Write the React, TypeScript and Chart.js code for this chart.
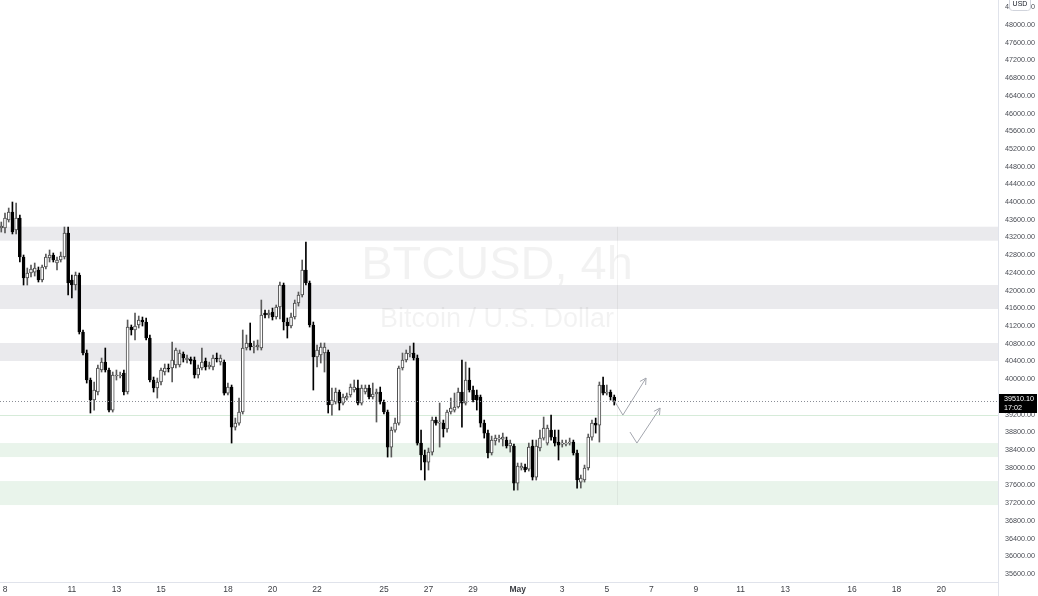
import { useEffect, useRef } from 'react';
import { Chart, registerables } from 'chart.js';

Chart.register(...registerables);

const FONT = "'Liberation Sans', Arial, sans-serif";

// 4h bars, time measured in days from Apr 8 00:00
const firstBarDay = -1 / 6;
const barStepDays = 1 / 6;

const opens = [
  43415, 43415, 43595, 43776, 43370, 43640, 42760, 42285, 42398, 42420,
  42466, 42240, 42534, 42737, 42805, 42624, 42692, 42760, 43302, 42240,
  42127, 42353, 41066, 40591, 39981, 39529, 39710, 40207, 40388, 40207,
  39303, 40072, 40072, 40139, 39710, 41178, 41111, 41224, 41337, 41291,
  40930, 39981, 39800, 39936, 40162, 40252, 40252, 40320, 40320, 40568,
  40433, 40456, 40433, 40094, 40252, 40410, 40275, 40275, 40478, 40388,
  40388, 39687, 39823, 38919, 39009, 39258, 40704, 40817, 40727, 40727,
  40704, 41494, 41449, 41517, 41404, 41630, 42127, 41291, 41201, 41404,
  41720, 41901, 42466, 42172, 41224, 40501, 40546, 40591, 40614, 39416,
  39484, 39710, 39461, 39574, 39642, 39755, 39800, 39461, 39710, 39800,
  39597, 39665, 39710, 39484, 39258, 38467, 38851, 39009, 40252, 40433,
  40568, 40591, 40478, 38557, 38287, 38128, 38354, 39077, 39009, 39009,
  38874, 39258, 39303, 39371, 39710, 39461, 39981, 39755, 39642, 39597,
  39009, 38783, 38332, 38603, 38648, 38648, 38625, 38490, 38490, 37654,
  37993, 38015, 37970, 38490, 37789, 38445, 38670, 38557, 38851, 38693,
  38580, 38535, 38535, 38557, 38580, 38332, 37676, 37722, 37993, 38693,
  39009, 38964, 39868, 39687, 39710, 39597,
];

const highs = [
  43550, 43753, 43866, 44002, 43979, 43708, 42805, 42511, 42579, 42624,
  42534, 42579, 42828, 42918, 42850, 42760, 42872, 43437, 43437, 42353,
  42420, 42398, 41111, 40659, 40026, 39936, 40320, 40478, 40704, 40252,
  40162, 40207, 40162, 40207, 41337, 41224, 41494, 41427, 41404, 41382,
  40998, 40049, 40026, 40252, 40343, 40343, 40839, 40704, 40659, 40614,
  40546, 40501, 40501, 40320, 40704, 40478, 40388, 40546, 40591, 40546,
  40433, 39913, 39868, 39122, 39574, 41111, 40998, 41269, 40862, 40885,
  41788, 41562, 41562, 41607, 41675, 42195, 42172, 41382, 41494, 41788,
  41969, 42692, 43098, 42217, 41291, 40772, 40817, 40817, 40659, 39800,
  39800, 39755, 39665, 39687, 39891, 39981, 39981, 39868, 39868, 39868,
  39913, 39778, 39823, 39529, 39303, 38919, 39122, 40297, 40591, 40659,
  40750, 40817, 40546, 38851, 38400, 38445, 39145, 39145, 39461, 39077,
  39303, 39574, 39687, 39800, 40433, 40388, 40252, 39846, 39755, 39642,
  39077, 38851, 38715, 38738, 38738, 38783, 38693, 38625, 38535, 38106,
  38106, 38083, 38557, 38625, 38625, 38851, 39145, 38964, 39190, 38851,
  38851, 38625, 38625, 38670, 38625, 38400, 37835, 38060, 38761, 39077,
  39122, 39936, 40049, 39868, 39755, 39642,
];

const lows = [
  43324, 43302, 43550, 43280, 43280, 42647, 42127, 42127, 42308, 42330,
  42195, 42195, 42488, 42647, 42647, 42466, 42647, 42715, 41901, 41833,
  42014, 41021, 40546, 39913, 39236, 39303, 39642, 40162, 40162, 39258,
  39258, 39981, 40026, 39642, 39665, 40998, 40885, 41156, 41201, 40885,
  39936, 39710, 39574, 39868, 40094, 40162, 39936, 40252, 40275, 40388,
  40365, 40343, 40026, 40026, 40207, 40207, 40230, 40207, 40388, 40320,
  39642, 39642, 38557, 38851, 38964, 39213, 40659, 40659, 40591, 40659,
  40659, 41382, 41382, 41337, 41359, 41359, 41111, 40930, 41156, 41359,
  41652, 41856, 42127, 41178, 39755, 40275, 40365, 40162, 39236, 39190,
  39439, 39303, 39416, 39529, 39597, 39710, 39416, 39416, 39665, 39552,
  39552, 39032, 39439, 39213, 38241, 38241, 38806, 38964, 40207, 40388,
  40501, 40433, 38512, 37948, 37722, 37948, 38287, 38964, 38467, 38693,
  38806, 39213, 39258, 39348, 38919, 39416, 39710, 39484, 39303, 38919,
  38670, 38219, 38287, 38512, 38580, 38490, 38445, 38354, 37496, 37496,
  37948, 37903, 37925, 37722, 37722, 38377, 38625, 38512, 38625, 38490,
  38174, 38467, 38490, 38512, 38287, 37541, 37541, 37676, 37948, 38625,
  38783, 38580, 39642, 39642, 39529, 39416,
];

const closes = [
  43460, 43640, 43776, 43324, 43640, 42760, 42285, 42398, 42488, 42511,
  42240, 42534, 42760, 42805, 42692, 42692, 42782, 43302, 42172, 42127,
  42353, 41066, 40591, 39981, 39529, 39755, 40252, 40388, 40207, 39303,
  40094, 40094, 40094, 39710, 41178, 41111, 41201, 41337, 41291, 40930,
  39981, 39800, 39936, 40207, 40252, 40230, 40433, 40659, 40591, 40478,
  40478, 40410, 40094, 40252, 40388, 40275, 40320, 40478, 40456, 40478,
  39687, 39823, 38919, 39009, 39258, 40704, 40817, 40727, 40750, 40772,
  41449, 41449, 41494, 41404, 41630, 42127, 41291, 41201, 41404, 41720,
  41901, 42466, 42172, 41224, 40501, 40659, 40727, 40727, 39416, 39529,
  39710, 39461, 39597, 39620, 39823, 39823, 39461, 39800, 39800, 39597,
  39665, 39710, 39484, 39258, 38467, 38851, 39009, 40252, 40433, 40591,
  40591, 40478, 38557, 38287, 38128, 38354, 39077, 39009, 39032, 38874,
  39258, 39348, 39371, 39710, 39461, 39981, 39755, 39529, 39529, 39009,
  38783, 38332, 38625, 38670, 38670, 38693, 38490, 38557, 37654, 38038,
  38038, 37948, 38467, 37789, 38490, 38670, 38896, 38896, 38693, 38557,
  38512, 38557, 38557, 38580, 38332, 37722, 37767, 37993, 38693, 39009,
  38964, 39868, 39687, 39710, 39597, 39510.1,
];

const xTickDays = [0, 3, 5, 7, 10, 12, 14, 17, 19, 21, 23, 25, 27, 29, 31, 33, 35, 38, 40, 42];
const xTickLabels = ['8', '11', '13', '15', '18', '20', '22', '25', '27', '29', 'May', '3', '5', '7', '9', '11', '13', '16', '18', '20'];
const yTickValues = [
  35600, 36000, 36400, 36800, 37200, 37600, 38000, 38400, 38800, 39200, 39600,
  40000, 40400, 40800, 41200, 41600, 42000, 42400, 42800, 43200, 43600, 44000,
  44400, 44800, 45200, 45600, 46000, 46400, 46800, 47200, 47600, 48000, 48400,
];

const xMinDay = -0.224;
const xMaxDay = 44.55;
const yMinPrice = 35419;
const yMaxPrice = 48565;

const greyZones = [
  [43128, 43444],
  [41585, 42127],
  [40410, 40817],
];
const greenZones = [
  [38241, 38557],
  [37157, 37699],
];
const supportLevel = 39190;
const zoneMarkerDay = 27.46;
const lastPrice = 39510.1;
const countdown = '17:02';
const arrowPaths = [
  [[27.32, 39529], [27.72, 39190], [28.76, 40026]],
  [[28.04, 38806], [28.35, 38557], [29.39, 39348]],
];
const symbolTitle = 'BTCUSD, 4h';
const symbolName = 'Bitcoin / U.S. Dollar';
const currency = 'USD';

const overlayPlugin = {
  id: 'overlay',
  beforeDatasetsDraw(chart: any) {
    const { ctx, chartArea: a, scales } = chart;
    const x = scales.x;
    const y = scales.y;
    ctx.save();
    // zones
    ctx.fillStyle = '#eaeaed';
    greyZones.forEach(([lo, hi]) => {
      const t = y.getPixelForValue(hi);
      const b = y.getPixelForValue(lo);
      ctx.fillRect(a.left, t, a.right - a.left, b - t);
    });
    ctx.fillStyle = '#e9f4eb';
    greenZones.forEach(([lo, hi]) => {
      const t = y.getPixelForValue(hi);
      const b = y.getPixelForValue(lo);
      ctx.fillRect(a.left, t, a.right - a.left, b - t);
    });
    // support line
    ctx.strokeStyle = '#d6ebd9';
    ctx.lineWidth = 1;
    const sy = Math.round(y.getPixelForValue(supportLevel)) + 0.5;
    ctx.beginPath();
    ctx.moveTo(a.left, sy);
    ctx.lineTo(a.right, sy);
    ctx.stroke();
    // marker
    const mx = Math.round(x.getPixelForValue(zoneMarkerDay)) + 0.5;
    ctx.strokeStyle = 'rgba(0,0,0,0.05)';
    ctx.beginPath();
    ctx.moveTo(mx, y.getPixelForValue(greyZones[0][1]));
    ctx.lineTo(mx, y.getPixelForValue(greenZones[1][0]));
    ctx.stroke();
    // watermark
    const cx = (a.left + a.right) / 2 - 2;
    ctx.fillStyle = 'rgba(0,0,0,0.05)';
    ctx.textAlign = 'center';
    ctx.textBaseline = 'middle';
    ctx.font = `47px ${FONT}`;
    ctx.fillText(symbolTitle, cx, 266);
    ctx.font = `27px ${FONT}`;
    ctx.fillText(symbolName, cx, 320);
    ctx.restore();
  },
  afterDatasetsDraw(chart: any) {
    const { ctx, chartArea: a, scales } = chart;
    const x = scales.x;
    const y = scales.y;
    ctx.save();
    // last price dotted line
    const py = Math.round(y.getPixelForValue(lastPrice)) + 0.5;
    ctx.strokeStyle = '#8a8d96';
    ctx.lineWidth = 1;
    ctx.setLineDash([1, 2]);
    ctx.beginPath();
    ctx.moveTo(a.left, py);
    ctx.lineTo(a.right, py);
    ctx.stroke();
    ctx.setLineDash([]);
    // arrows
    ctx.strokeStyle = '#a3a6ae';
    ctx.lineWidth = 1;
    arrowPaths.forEach((path) => {
      const pts = path.map(([d, p]) => [x.getPixelForValue(d), y.getPixelForValue(p)]);
      ctx.beginPath();
      pts.forEach(([px, pyy], i) => (i ? ctx.lineTo(px, pyy) : ctx.moveTo(px, pyy)));
      ctx.stroke();
      const [ex, ey] = pts[pts.length - 1];
      const [sx, syy] = pts[pts.length - 2];
      const ang = Math.atan2(ey - syy, ex - sx);
      const len = 7;
      ctx.beginPath();
      ctx.moveTo(ex - len * Math.cos(ang - 0.5), ey - len * Math.sin(ang - 0.5));
      ctx.lineTo(ex, ey);
      ctx.lineTo(ex - len * Math.cos(ang + 0.5), ey - len * Math.sin(ang + 0.5));
      ctx.stroke();
    });
    ctx.restore();
  },
  afterDraw(chart: any) {
    const { ctx, chartArea: a, scales, width, height } = chart;
    const y = scales.y;
    ctx.save();
    ctx.strokeStyle = '#e0e3eb';
    ctx.lineWidth = 1;
    ctx.beginPath();
    ctx.moveTo(a.right + 0.5, 0);
    ctx.lineTo(a.right + 0.5, height);
    ctx.moveTo(0, a.bottom + 0.5);
    ctx.lineTo(a.right, a.bottom + 0.5);
    ctx.stroke();
    // price label
    const py = y.getPixelForValue(lastPrice);
    const bx = a.right + 1;
    const bw = width - 1 - bx;
    ctx.fillStyle = '#000';
    ctx.fillRect(bx, Math.round(py) - 7, bw, 19);
    ctx.fillStyle = '#fff';
    ctx.font = `7.2px ${FONT}`;
    ctx.textAlign = 'left';
    ctx.textBaseline = 'middle';
    ctx.fillText(lastPrice.toFixed(2), a.right + 6, Math.round(py) - 1.5);
    ctx.fillText(countdown, a.right + 6, Math.round(py) + 7);
    // currency badge
    const ux = 1009;
    const uw = 21;
    ctx.fillStyle = '#fff';
    ctx.strokeStyle = '#d1d4dc';
    ctx.beginPath();
    (ctx as any).roundRect(ux + 0.5, -3.5, uw, 14, 3);
    ctx.fill();
    ctx.stroke();
    ctx.fillStyle = '#131722';
    ctx.textAlign = 'center';
    ctx.font = `7px ${FONT}`;
    ctx.fillText(currency, ux + uw / 2 + 0.5, 4.5);
    ctx.restore();
  },
};

export default function App() {
  const ref = useRef<HTMLCanvasElement | null>(null);
  useEffect(() => {
    document.body.style.margin = '0';
    const canvas = ref.current;
    if (!canvas) return;
    const times = opens.map((_, i) => firstBarDay + i * barStepDays);
    const isUp = opens.map((o, i) => closes[i] >= o);
    const chart = new Chart(canvas, {
      type: 'bar',
      data: {
        datasets: [
          {
            label: 'body',
            data: times.map((t, i) => ({ x: t, y: [opens[i], closes[i]] })) as any,
            backgroundColor: isUp.map((u) => (u ? '#ffffff' : '#000000')),
            borderColor: isUp.map((u) => (u ? '#4a4a4a' : '#000000')),
            borderWidth: 1,
            borderSkipped: false,
            barThickness: 3,
            minBarLength: 1,
            grouped: false,
            order: 0,
          } as any,
          {
            label: 'wick',
            data: times.map((t, i) => ({ x: t, y: [lows[i], highs[i]] })) as any,
            backgroundColor: isUp.map((u) => (u ? '#5a5a5a' : '#000000')),
            borderWidth: 0,
            barThickness: 1,
            grouped: false,
            order: 1,
          } as any,
        ],
      },
      options: {
        animation: false,
        responsive: false,
        maintainAspectRatio: false,
        devicePixelRatio: 1,
        events: [],
        layout: { padding: 0 },
        plugins: { legend: { display: false }, tooltip: { enabled: false } },
        scales: {
          x: {
            type: 'linear',
            min: xMinDay,
            max: xMaxDay,
            offset: false,
            grid: { display: false, drawTicks: false },
            border: { display: false },
            afterBuildTicks: (s: any) => {
              s.ticks = xTickDays.map((v) => ({ value: v }));
            },
            afterFit: (s: any) => {
              s.height = 14;
              s.paddingLeft = 0;
              s.paddingRight = 0;
            },
            ticks: {
              autoSkip: false,
              maxRotation: 0,
              padding: 3,
              color: '#3d3f45',
              font: (c: any) => {
                const idx = c.tick ? xTickDays.indexOf(c.tick.value) : -1;
                const bold = idx >= 0 && xTickLabels[idx] === 'May';
                return { family: FONT, size: 8.5, weight: bold ? 'bold' : 'normal' };
              },
              callback: (v: any) => {
                const idx = xTickDays.indexOf(Number(v));
                return idx >= 0 ? xTickLabels[idx] : '';
              },
            },
          },
          y: {
            type: 'linear',
            position: 'right',
            min: yMinPrice,
            max: yMaxPrice,
            grid: { display: false, drawTicks: false },
            border: { display: false },
            afterBuildTicks: (s: any) => {
              s.ticks = yTickValues.map((v) => ({ value: v }));
            },
            afterFit: (s: any) => {
              s.width = 40;
              s.paddingTop = 0;
              s.paddingBottom = 0;
            },
            ticks: {
              padding: 7,
              color: '#4a4d55',
              font: { family: FONT, size: 7.2 },
              callback: (v: any) => Number(v).toFixed(2),
            },
          },
        },
      } as any,
      plugins: [overlayPlugin],
    });
    return () => chart.destroy();
  }, []);
  return (
    <div style={{ width: 1038, height: 596 }}>
      <canvas ref={ref} width={1038} height={596} style={{ display: 'block' }} />
    </div>
  );
}
